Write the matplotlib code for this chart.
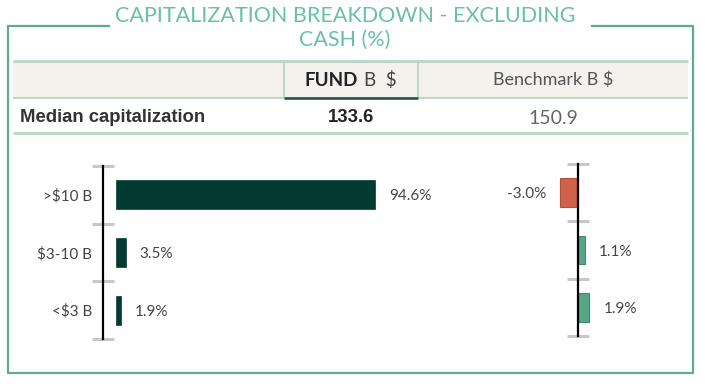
import matplotlib
matplotlib.use("Agg")
import matplotlib.pyplot as plt
from matplotlib.lines import Line2D
from matplotlib.patches import Rectangle
import numpy as np

# ---- data ----
title = "CAPITALIZATION BREAKDOWN - EXCLUDING\nCASH (%)"
col_fund_bold = "FUND"
col_fund = "B  $"
col_bench = "Benchmark B $"
row_label = "Median capitalization"
fund_median = "133.6"
bench_median = "150.9"
categories = [">$10 B", "$3-10 B", "<$3 B"]
fund_values = [94.6, 3.5, 1.9]
relative_values = [-3.0, 1.1, 1.9]

W, H = 705, 384
fig = plt.figure(figsize=(W / 100, H / 100), dpi=100)
fig.patch.set_facecolor("white")

def fx(x):
    return x / W

def fy(y):
    return 1 - y / H

def ax_rect(x0, y0, x1, y1):
    return [fx(x0), fy(y1), (x1 - x0) / W, (y1 - y0) / H]

FRAME = "#5fab8b"
LIGHT = "#bcd9c6"
BG = "#f5f1ec"
TITLE_C = "#68c0a8"
DARK = "#033b31"
RED = "#d0614b"
GREEN = "#55a786"

def fline(xs, ys, color, lw):
    fig.add_artist(Line2D([fx(x) for x in xs], [fy(y) for y in ys],
                          color=color, lw=lw, transform=fig.transFigure,
                          solid_capstyle="butt"))

# frame
fline([110, 8, 8, 693, 693, 591], [26, 26, 373, 373, 26, 26], FRAME, 1.6)

# title
fig.text(fx(345), fy(28), title, ha="center", va="center", color=TITLE_C,
         fontsize=15.5, family="Lato", linespacing=1.2)

# header band
fig.add_artist(Rectangle((fx(13), fy(98)), (688 - 13) / W, (98 - 61) / H,
                         transform=fig.transFigure, fc=BG, ec="none"))
fline([13, 688], [61, 61], LIGHT, 2.2)
fline([13, 688], [98, 98], LIGHT, 1.5)
fline([284, 284], [60, 98], LIGHT, 1.5)
fline([418, 418], [60, 98], LIGHT, 1.5)
fline([284, 418], [98, 98], "#1d4d43", 1.8)
fline([13, 688], [133, 133], LIGHT, 2.2)

# header text
fig.text(fx(358), fy(80), col_fund_bold, ha="right", va="center",
         fontsize=13.5, family="Lato", fontweight="bold", color="#222222")
fig.text(fx(364), fy(80), col_fund, ha="left", va="center",
         fontsize=13.5, family="Lato", color="#444444")
fig.text(fx(553), fy(80), col_bench, ha="center", va="center",
         fontsize=13, family="Lato", color="#555555")

# median row
fig.text(fx(20), fy(118), row_label, ha="left", va="center",
         fontsize=13.3, family="Liberation Sans", fontweight="bold", color="#333333")
fig.text(fx(351), fy(118), fund_median, ha="center", va="center",
         fontsize=13.3, family="Liberation Sans", fontweight="bold", color="#222222")
fig.text(fx(553), fy(118), bench_median, ha="center", va="center",
         fontsize=14, family="Lato", color="#666666")

n = len(categories)
ypos = np.arange(n)

def style_axis(ax, spine_x):
    for s in ["top", "right", "bottom"]:
        ax.spines[s].set_visible(False)
    ax.spines["left"].set_position(("data", spine_x))
    ax.spines["left"].set_color("black")
    ax.spines["left"].set_linewidth(1.6)
    ax.set_ylim(n - 0.5, -0.5)
    ax.set_xticks([])
    ax.set_yticks(np.arange(n + 1) - 0.5, minor=True)
    ax.tick_params(axis="y", which="minor", length=16, direction="inout",
                   color="#c8c8c8", width=2.2)
    ax.patch.set_alpha(0)

# left chart (fund)
scale_l = 2.74  # px per %
spine_l = -13 / scale_l
xmax_l = 120
axL = fig.add_axes(ax_rect(103, 166, 103 + (xmax_l - spine_l) * scale_l, 339))
bars = axL.barh(ypos, fund_values, height=0.5, color=DARK, edgecolor=DARK, lw=0.5)
axL.set_xlim(spine_l, xmax_l)
style_axis(axL, spine_l)
axL.set_yticks(ypos)
axL.set_yticklabels(categories, family="Lato", fontsize=11, color="#444444")
axL.tick_params(axis="y", which="major", length=0, pad=8)
lbl = axL.bar_label(bars, labels=[f"{v:.1f}%" for v in fund_values], padding=10,
                    family="Lato", fontsize=11, color="#444444")
for t in lbl:
    t.set_va("center_baseline")

# right chart (relative)
scale_r = 6.0
axR = fig.add_axes(ax_rect(578 - 5 * scale_r, 164, 578 + 5 * scale_r, 336))
cols = [RED if v < 0 else GREEN for v in relative_values]
edges = ["#b0503d" if v < 0 else "#3f8a6c" for v in relative_values]
bars_r = axR.barh(ypos, relative_values, height=0.5, color=cols, edgecolor=edges, lw=0.8)
axR.set_xlim(-5, 5)
style_axis(axR, 0)
axR.set_yticks([])
lbl = axR.bar_label(bars_r, labels=[f"{v:.1f}%" for v in relative_values], padding=10,
                    family="Lato", fontsize=11, color="#444444")
for t in lbl:
    t.set_va("center_baseline")

fig.savefig("out.png", dpi=100, facecolor="white")
